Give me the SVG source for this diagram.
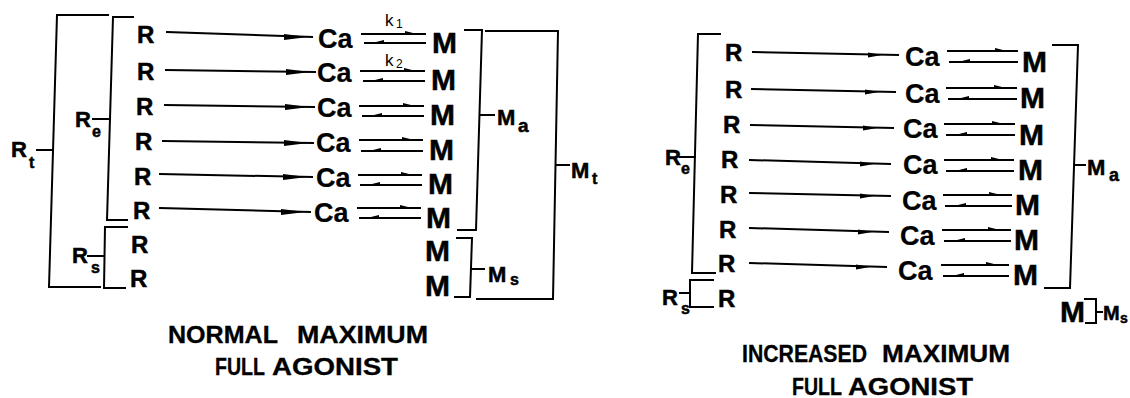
<svg xmlns="http://www.w3.org/2000/svg" width="1130" height="398" viewBox="0 0 1130 398">
<style>
.ln{stroke:#000;stroke-width:2;fill:none;stroke-linecap:square}
.ah{fill:#000;stroke:none}
.t{font-family:"Liberation Sans",Arial,sans-serif;font-weight:bold;fill:#000;stroke:#000;stroke-width:0.5}
.r{font-size:24px}
.ca{font-size:27px;stroke-width:0.2}
.m{font-size:30px}
.lab{font-size:22px}
.sub{font-size:16px}
.k{font-family:"Liberation Sans",Arial,sans-serif;font-size:17px;fill:#000}
.ks{font-family:"Liberation Sans",Arial,sans-serif;font-size:12px;fill:#000}
.ttl{font-size:23px;stroke-width:0.3}
</style>
<rect width="1130" height="398" fill="#fff"/>

<!-- LEFT DIAGRAM -->
<g id="left-R" class="t r">
<text x="137" y="43">R</text><text x="137" y="80">R</text><text x="136" y="115">R</text>
<text x="135" y="150">R</text><text x="134" y="185">R</text><text x="133" y="219">R</text>
<text x="131" y="253">R</text><text x="130" y="287">R</text>
</g>
<g id="left-Ca" class="t ca">
<text x="318" y="48">Ca</text><text x="317" y="82">Ca</text><text x="317" y="117">Ca</text>
<text x="316" y="152">Ca</text><text x="316" y="187">Ca</text><text x="314" y="222">Ca</text>
</g>
<g id="left-M" class="t m">
<text x="432" y="53">M</text><text x="431" y="90">M</text><text x="430" y="125">M</text>
<text x="429" y="160">M</text><text x="428" y="194">M</text><text x="426" y="228">M</text>
<text x="425" y="261">M</text><text x="425" y="296">M</text>
</g>
<g id="left-k">
<text class="k" x="385" y="26">k</text><text class="ks" x="396" y="28">1</text>
<text class="k" x="385" y="66">k</text><text class="ks" x="396" y="68">2</text>
</g>
<g id="left-labels" class="t">
<text class="lab" x="11" y="157">R</text><text class="sub" x="29" y="168">t</text>
<text class="lab" x="75" y="127">R</text><text class="sub" x="92" y="137">e</text>
<text class="lab" x="72" y="263">R</text><text class="sub" x="91" y="273">s</text>
<text class="lab" x="497" y="125">M</text><text class="sub" x="518" y="132" style="font-size:19px">a</text>
<text class="lab" x="571" y="178">M</text><text class="sub" x="592" y="184">t</text>
<text class="lab" x="488" y="282">M</text><text class="sub" x="510" y="285">s</text>
</g>
<g id="left-brackets">
<polyline class="ln" points="108,15 57,15 49,287 100,287"/>
<line class="ln" x1="37" y1="150" x2="52" y2="150"/>
<polyline class="ln" points="133,17 113,17 107,220 127,220"/>
<line class="ln" x1="93" y1="119" x2="110" y2="119"/>
<polyline class="ln" points="127,227 105,227 104,288 125,288"/>
<line class="ln" x1="88" y1="256" x2="104" y2="256"/>
<polyline class="ln" points="465,30 482,30 476,230 458,230"/>
<line class="ln" x1="481" y1="115" x2="494" y2="115"/>
<polyline class="ln" points="486,31 558,31 553,299 477,299"/>
<line class="ln" x1="557" y1="165" x2="569" y2="165"/>
<polyline class="ln" points="457,238 472,238 470,297 455,297"/>
<line class="ln" x1="471" y1="269" x2="484" y2="269"/>
</g>
<g id="left-connectors">
<line class="ln" x1="167" y1="32" x2="312" y2="37"/><polygon class="ah" points="308,37 284,34 284,40"/>
<line class="ln" x1="166" y1="70" x2="315" y2="72"/><polygon class="ah" points="310,72 286,69 286,75"/>
<line class="ln" x1="165" y1="105" x2="314" y2="107"/><polygon class="ah" points="309,107 285,104 285,110"/>
<line class="ln" x1="163" y1="141" x2="313" y2="143"/><polygon class="ah" points="308,143 284,140 284,146"/>
<line class="ln" x1="160" y1="174" x2="312" y2="177"/><polygon class="ah" points="307,177 283,174 283,180"/>
<line class="ln" x1="160" y1="208" x2="310" y2="212"/><polygon class="ah" points="305,212 281,209 281,215"/>

<line class="ln" x1="362" y1="34" x2="425" y2="34"/><polygon class="ah" points="417,34 405,31 405,35"/>
<line class="ln" x1="365" y1="43" x2="425" y2="43"/><polygon class="ah" points="372,43 384,40 384,44"/>
<line class="ln" x1="361" y1="71" x2="424" y2="71"/><polygon class="ah" points="416,71 404,68 404,72"/>
<line class="ln" x1="364" y1="81" x2="424" y2="81"/><polygon class="ah" points="371,81 383,78 383,82"/>
<line class="ln" x1="360" y1="106" x2="423" y2="106"/><polygon class="ah" points="415,106 403,103 403,107"/>
<line class="ln" x1="363" y1="116" x2="423" y2="116"/><polygon class="ah" points="370,116 382,113 382,117"/>
<line class="ln" x1="360" y1="140" x2="422" y2="140"/><polygon class="ah" points="414,140 402,137 402,141"/>
<line class="ln" x1="362" y1="151" x2="422" y2="151"/><polygon class="ah" points="369,151 381,148 381,152"/>
<line class="ln" x1="359" y1="175" x2="421" y2="175"/><polygon class="ah" points="413,175 401,172 401,176"/>
<line class="ln" x1="361" y1="185" x2="421" y2="185"/><polygon class="ah" points="368,185 380,182 380,186"/>
<line class="ln" x1="358" y1="208" x2="420" y2="208"/><polygon class="ah" points="412,208 400,205 400,209"/>
<line class="ln" x1="360" y1="218" x2="420" y2="218"/><polygon class="ah" points="367,218 379,215 379,219"/>
</g>
<g id="left-title" class="t ttl">
<text x="168" y="343" textLength="110" lengthAdjust="spacingAndGlyphs">NORMAL</text>
<text x="297" y="343" textLength="131" lengthAdjust="spacingAndGlyphs">MAXIMUM</text>
<text x="215" y="375" textLength="50" lengthAdjust="spacingAndGlyphs">FULL</text>
<text x="272" y="375" textLength="126" lengthAdjust="spacingAndGlyphs">AGONIST</text>
</g>

<!-- RIGHT DIAGRAM -->
<g id="right-R" class="t r">
<text x="725" y="61">R</text><text x="725" y="98">R</text><text x="723" y="133">R</text>
<text x="721" y="168">R</text><text x="720" y="203">R</text><text x="719" y="238">R</text>
<text x="718" y="272">R</text><text x="718" y="307">R</text>
</g>
<g id="right-Ca" class="t ca">
<text x="905" y="66">Ca</text><text x="905" y="103">Ca</text><text x="903" y="138">Ca</text>
<text x="903" y="174">Ca</text><text x="902" y="210">Ca</text><text x="900" y="245">Ca</text>
<text x="898" y="280">Ca</text>
</g>
<g id="right-M" class="t m">
<text x="1022" y="72">M</text><text x="1020" y="108">M</text><text x="1019" y="145">M</text>
<text x="1018" y="180">M</text><text x="1015" y="215">M</text><text x="1014" y="250">M</text>
<text x="1013" y="285">M</text><text x="1060" y="322">M</text>
</g>
<g id="right-labels" class="t">
<text class="lab" x="665" y="165">R</text><text class="sub" x="681" y="174">e</text>
<text class="lab" x="662" y="305">R</text><text class="sub" x="681" y="314">s</text>
<text class="lab" x="1087" y="175">M</text><text class="sub" x="1109" y="181" style="font-size:18px">a</text>
<text class="lab" x="1103" y="320" style="font-size:20px">M</text><text class="sub" x="1120" y="323" style="font-size:14px">s</text>
</g>
<g id="right-brackets">
<polyline class="ln" points="720,34 698,34 692,273 715,273"/>
<line class="ln" x1="680" y1="157" x2="695" y2="157"/>
<polyline class="ln" points="713,280 690,280 690,307 713,307"/>
<line class="ln" x1="680" y1="293" x2="689" y2="293"/>
<polyline class="ln" points="1053,45 1078,45 1070,288 1045,288"/>
<line class="ln" x1="1076" y1="165" x2="1085" y2="165"/>
<polyline class="ln" points="1085,299 1096,299 1096,323 1086,323"/>
<line class="ln" x1="1096" y1="312" x2="1102" y2="312"/>
</g>
<g id="right-connectors">
<line class="ln" x1="753" y1="52" x2="898" y2="55"/><polygon class="ah" points="882,55 868,52.5 868,57.5"/>
<line class="ln" x1="752" y1="89" x2="895" y2="92"/><polygon class="ah" points="879,92 865,89.5 865,94.5"/>
<line class="ln" x1="751" y1="125" x2="893" y2="128"/><polygon class="ah" points="877,128 863,125.5 863,130.5"/>
<line class="ln" x1="750" y1="160" x2="890" y2="164"/><polygon class="ah" points="874,164 860,161.5 860,166.5"/>
<line class="ln" x1="750" y1="193" x2="890" y2="196"/><polygon class="ah" points="874,196 860,193.5 860,198.5"/>
<line class="ln" x1="750" y1="228" x2="888" y2="232"/><polygon class="ah" points="872,232 858,229.5 858,234.5"/>
<line class="ln" x1="750" y1="263" x2="886" y2="267"/><polygon class="ah" points="870,267 856,264.5 856,269.5"/>

<line class="ln" x1="948" y1="51" x2="1017" y2="51"/><polygon class="ah" points="1007,51 995,48 995,52"/>
<line class="ln" x1="950" y1="62" x2="1017" y2="62"/><polygon class="ah" points="958,62 970,59 970,63"/>
<line class="ln" x1="947" y1="88" x2="1016" y2="88"/><polygon class="ah" points="1006,88 994,85 994,89"/>
<line class="ln" x1="949" y1="99" x2="1016" y2="99"/><polygon class="ah" points="957,99 969,96 969,100"/>
<line class="ln" x1="945" y1="124" x2="1014" y2="124"/><polygon class="ah" points="1004,124 992,121 992,125"/>
<line class="ln" x1="947" y1="135" x2="1014" y2="135"/><polygon class="ah" points="955,135 967,132 967,136"/>
<line class="ln" x1="945" y1="160" x2="1013" y2="160"/><polygon class="ah" points="1003,160 991,157 991,161"/>
<line class="ln" x1="947" y1="171" x2="1013" y2="171"/><polygon class="ah" points="955,171 967,168 967,172"/>
<line class="ln" x1="944" y1="195" x2="1011" y2="195"/><polygon class="ah" points="1001,195 989,192 989,196"/>
<line class="ln" x1="946" y1="206" x2="1011" y2="206"/><polygon class="ah" points="954,206 966,203 966,207"/>
<line class="ln" x1="943" y1="230" x2="1010" y2="230"/><polygon class="ah" points="1000,230 988,227 988,231"/>
<line class="ln" x1="945" y1="241" x2="1010" y2="241"/><polygon class="ah" points="953,241 965,238 965,242"/>
<line class="ln" x1="942" y1="265" x2="1008" y2="265"/><polygon class="ah" points="998,265 986,262 986,266"/>
<line class="ln" x1="944" y1="276" x2="1008" y2="276"/><polygon class="ah" points="952,276 964,273 964,277"/>
</g>
<g id="right-title" class="t ttl">
<text x="742" y="362" textLength="125" lengthAdjust="spacingAndGlyphs">INCREASED</text>
<text x="882" y="362" textLength="128" lengthAdjust="spacingAndGlyphs">MAXIMUM</text>
<text x="792" y="395" textLength="50" lengthAdjust="spacingAndGlyphs">FULL</text>
<text x="848" y="395" textLength="125" lengthAdjust="spacingAndGlyphs">AGONIST</text>
</g>
</svg>
